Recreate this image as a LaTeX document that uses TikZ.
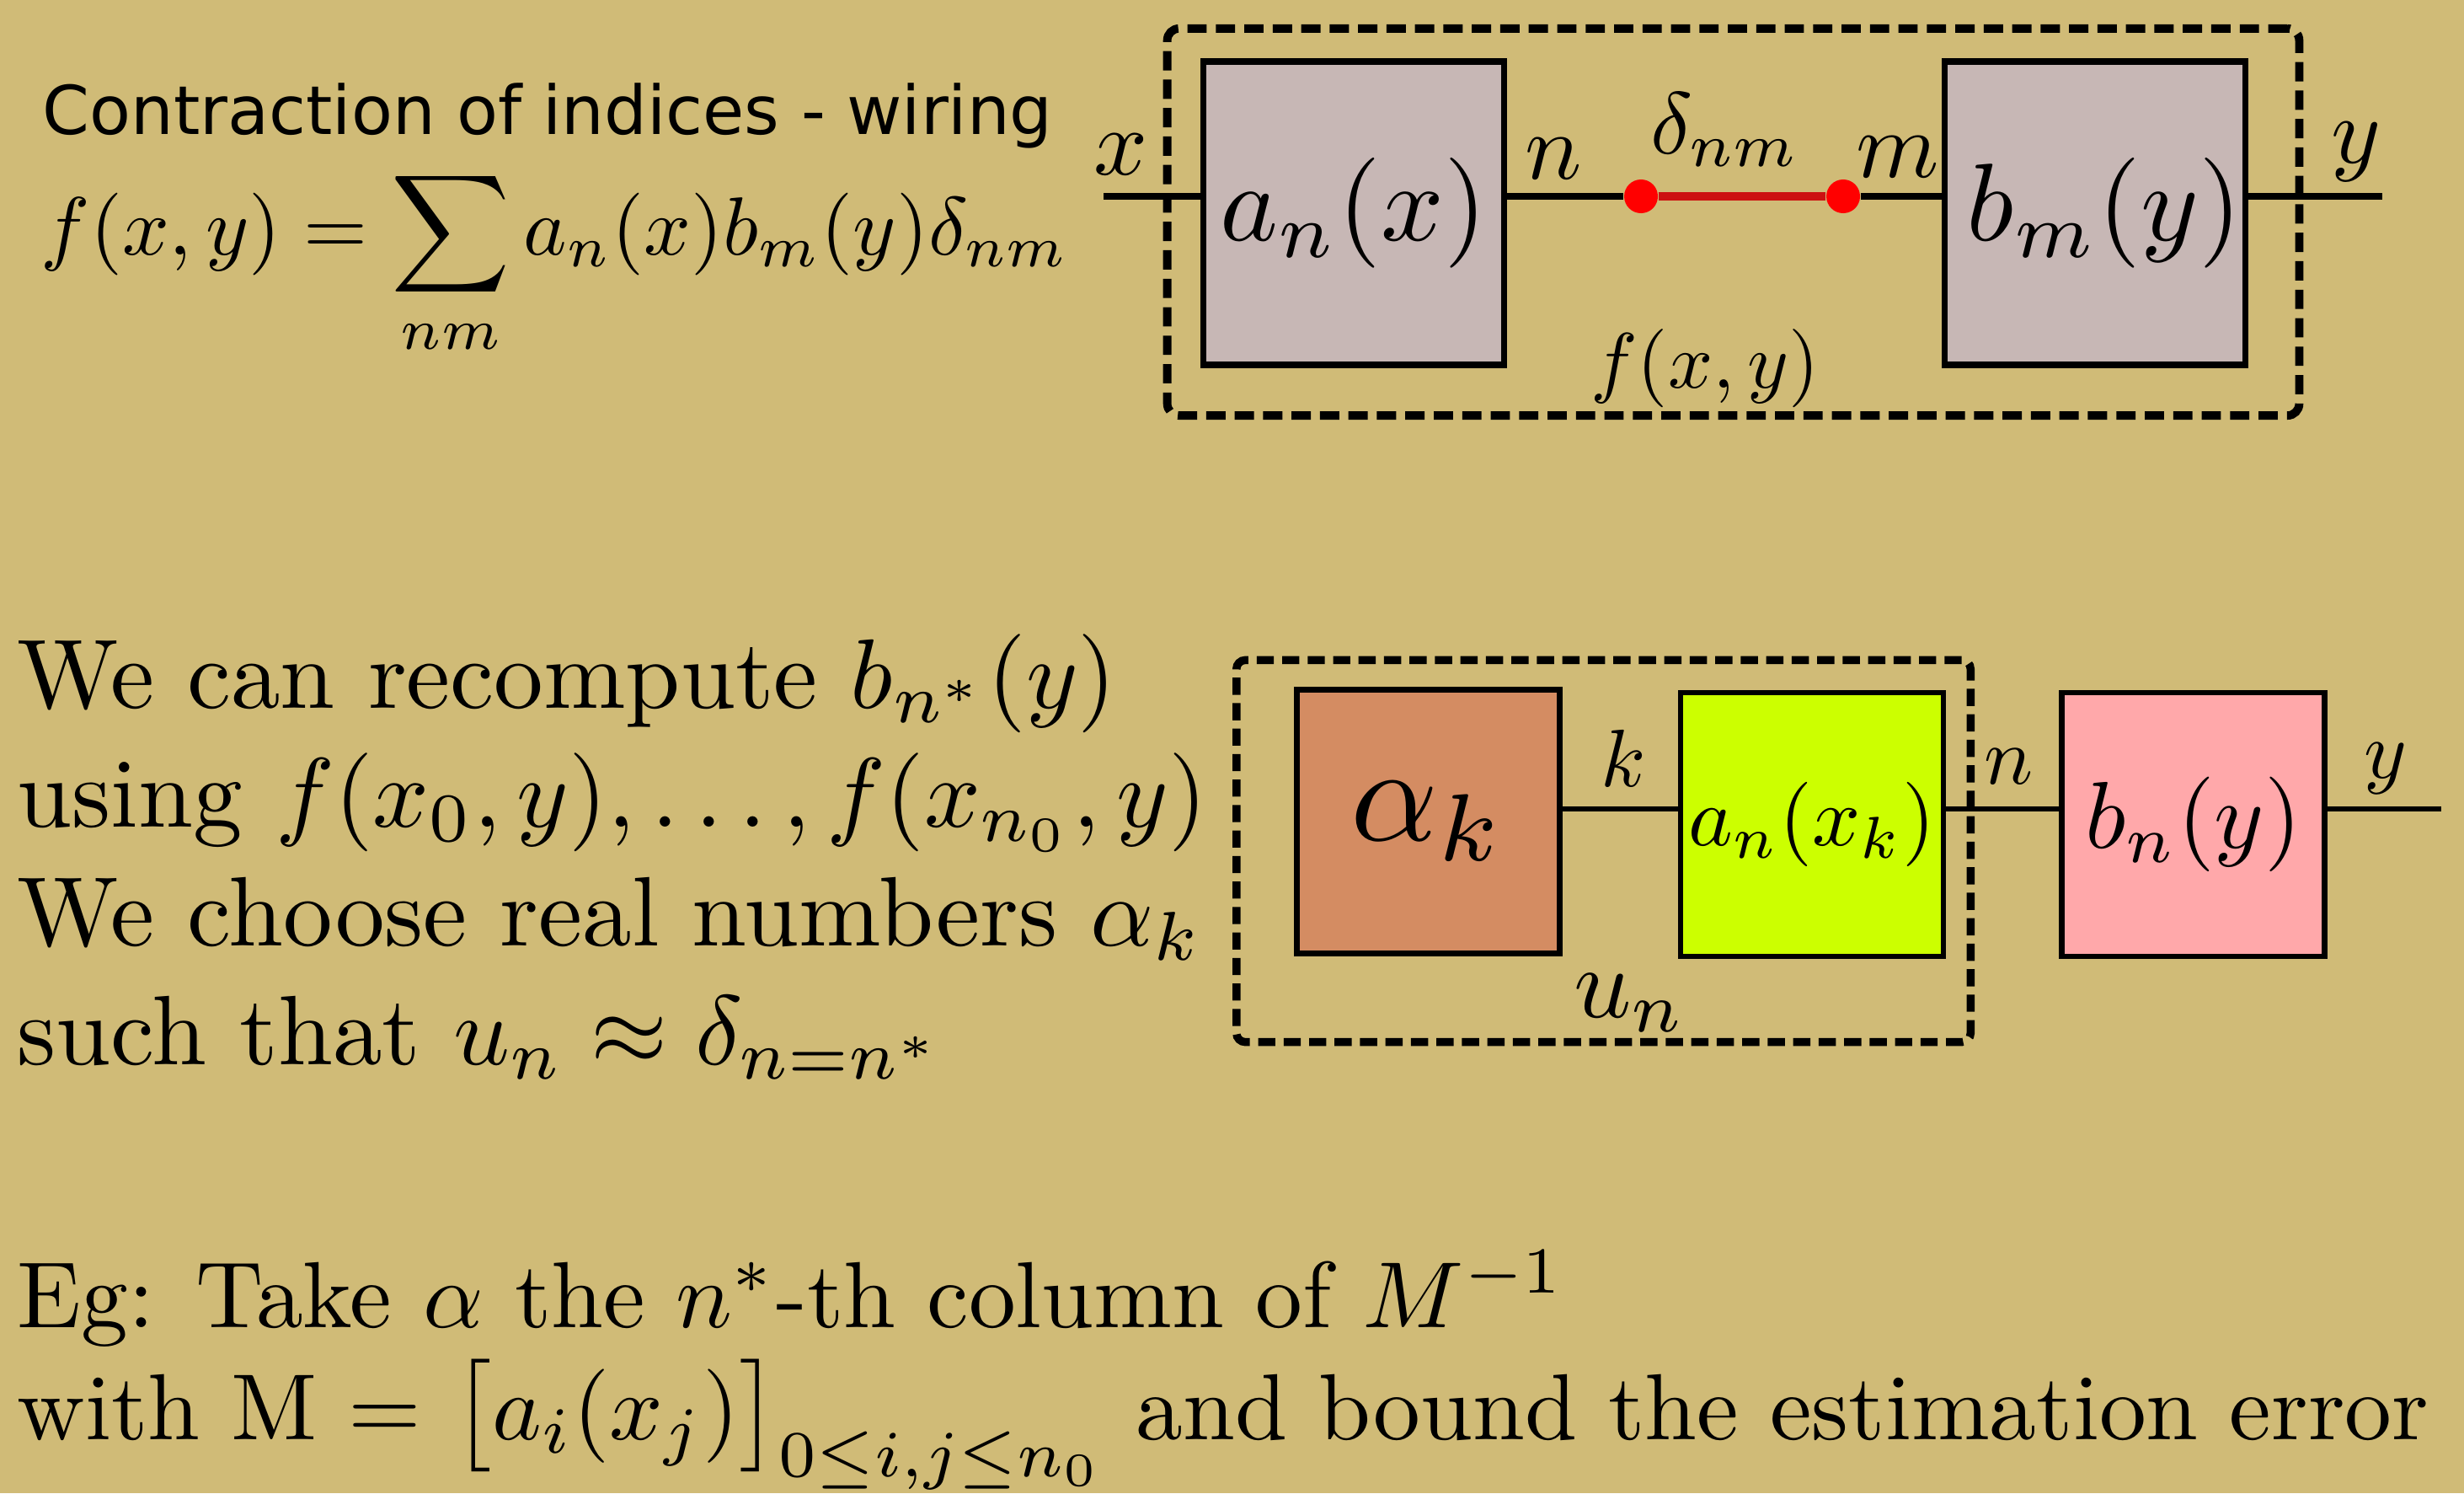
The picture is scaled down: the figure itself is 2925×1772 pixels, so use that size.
\documentclass[tikz,border=0pt]{standalone}
\usepackage{graphicx}
\usepackage{fontspec}
\newfontfamily\dejavu{DejaVu Sans}
\definecolor{bg}{HTML}{D0BB77}
\definecolor{boxgrey}{HTML}{C7B7B5}
\definecolor{alphabox}{HTML}{D48C62}
\definecolor{limebox}{HTML}{CCFF00}
\definecolor{pinkbox}{HTML}{FFA8AA}
\definecolor{deltared}{HTML}{CC1111}
\newcommand{\sz}[2]{\scalebox{#1}{#2}}
\tikzset{
  topbox/.style={draw, fill=boxgrey, line width=2.1pt, minimum width=3.57cm, minimum height=3.6cm, inner sep=0pt},
  botbox/.style={draw, line width=1.85pt, minimum width=3.12cm, minimum height=3.13cm, inner sep=0pt},
  wire/.style={line width=2pt},
  wireb/.style={line width=1.6pt},
  dashtop/.style={draw, line width=2.8pt, dash pattern=on 6.5pt off 3.1pt, rounded corners=4pt, inner sep=0pt},
  dashbot/.style={draw, line width=2.7pt, dash pattern=on 5.8pt off 2.8pt, rounded corners=3pt, inner sep=0pt},
  dot/.style={circle, fill=red, minimum size=0.4cm, inner sep=0pt},
  lbl/.style={anchor=base, inner sep=0pt},
  txt/.style={anchor=base west, inner sep=0pt},
}
\begin{document}
\begin{tikzpicture}[x=0.01cm,y=-0.01cm]
\fill[bg] (0,0) rectangle (2925,1772);
\useasboundingbox (0,0) rectangle (2925,1772);

% ---------- top left text ----------
\node[txt, font={\dejavu\fontsize{22.75pt}{27pt}\selectfont}] (title) at (50,159) {Contraction of indices - wiring};
\node[txt] (formula) at (48,302)
  {\sz{2.78}{$\displaystyle f(x,y)=\sum_{nm}a_n(x)b_m(y)\delta_{nm}$}};

% ---------- top diagram ----------
\node[dashtop, minimum width=13.43cm, minimum height=4.59cm] (F) at (2057.5,263.5) {};
\node[topbox] (A) at (1607,253) {\raisebox{0.155cm}{\sz{3.72}{$a_n(x)$}}};
\node[topbox] (B) at (2487,253) {\hspace{0.22cm}\raisebox{0.10cm}{\sz{3.72}{$b_m(y)$}}};
\node[dot] (d1) at (1948,233) {};
\node[dot] (d2) at (2188,233) {};
\coordinate (xin) at (1310,233);
\coordinate (yout) at (2828,233);
\draw[wire] (xin) -- (xin -| A.west);
\draw[wire] (A.east |- xin) -- (d1);
\draw[line width=3.1pt, deltared] (d1) -- (d2);
\draw[wire] (d2) -- (d2 -| B.west);
\draw[wire] (B.east |- yout) -- (yout);

\node[lbl] (lx) at (1331,207) {\sz{3.19}{$x$}};
\node[lbl] (ln) at (1844,212) {\sz{3.19}{$n$}};
\node[lbl] (lm) at (2253,210) {\sz{3.19}{$m$}};
\node[lbl] (ly) at (2797,193) {\sz{3.19}{$y$}};
\node[lbl] (ldelta) at (2048,182) {\sz{2.96}{$\delta_{nm}$}};
\node[lbl] (lf) at (2024,460) {\sz{2.65}{$f(x,y)$}};

% ---------- bottom left text ----------
\node[txt] (t1) at (20,840) {\sz{3.33}{We can recompute $b_{n^*}(y)$}};
\node[txt] (t2) at (20,981) {\sz{3.33}{using $f(x_0,y),\dots,f(x_{n_0},y)$}};
\node[txt] (t3) at (20,1122) {\sz{3.33}{We choose real numbers $\alpha_k$}};
\node[txt] (t4) at (20,1263) {\sz{3.33}{such that $u_n\approx\delta_{n=n^*}$}};
\node[txt] (t5) at (20,1575) {\sz{3.17}{Eg: Take $\alpha$ the $n^*$-th column of $M^{-1}$}};
\node[txt] (t6) at (20,1708) {\sz{3.17}{with M $=$ $\bigl[a_i(x_j)\bigr]_{0\le i,j\le n_0}$ and bound the estimation error}};

% ---------- bottom diagram ----------
\node[dashbot, minimum width=8.71cm, minimum height=4.53cm] (U) at (1903.5,1010) {};
\node[botbox, fill=alphabox] (Al) at (1695.5,975) {\raisebox{0.12cm}{\sz{4.6}{$\alpha_k$}}};
\node[botbox, fill=limebox] (An) at (2151,978.5) {\raisebox{0.215cm}{\sz{2.85}{$a_n(x_k)$}}};
\node[botbox, fill=pinkbox] (Bn) at (2603.6,978.5) {\raisebox{0.085cm}{\sz{3.2}{$b_n(y)$}}};
\coordinate (yout2) at (2898,960);
\draw[wireb] (Al.east |- yout2) -- (An.west |- yout2);
\draw[wireb] (An.east |- yout2) -- (Bn.west |- yout2);
\draw[wireb] (Bn.east |- yout2) -- (yout2);

\node[lbl] (lk) at (1927,933) {\sz{2.75}{$k$}};
\node[lbl] (ln2) at (2384,930) {\sz{2.75}{$n$}};
\node[lbl] (ly2) at (2832,923) {\sz{2.75}{$y$}};
\node[lbl] (lu) at (1935,1207) {\sz{3.4}{$u_n$}};
\end{tikzpicture}
\end{document}
